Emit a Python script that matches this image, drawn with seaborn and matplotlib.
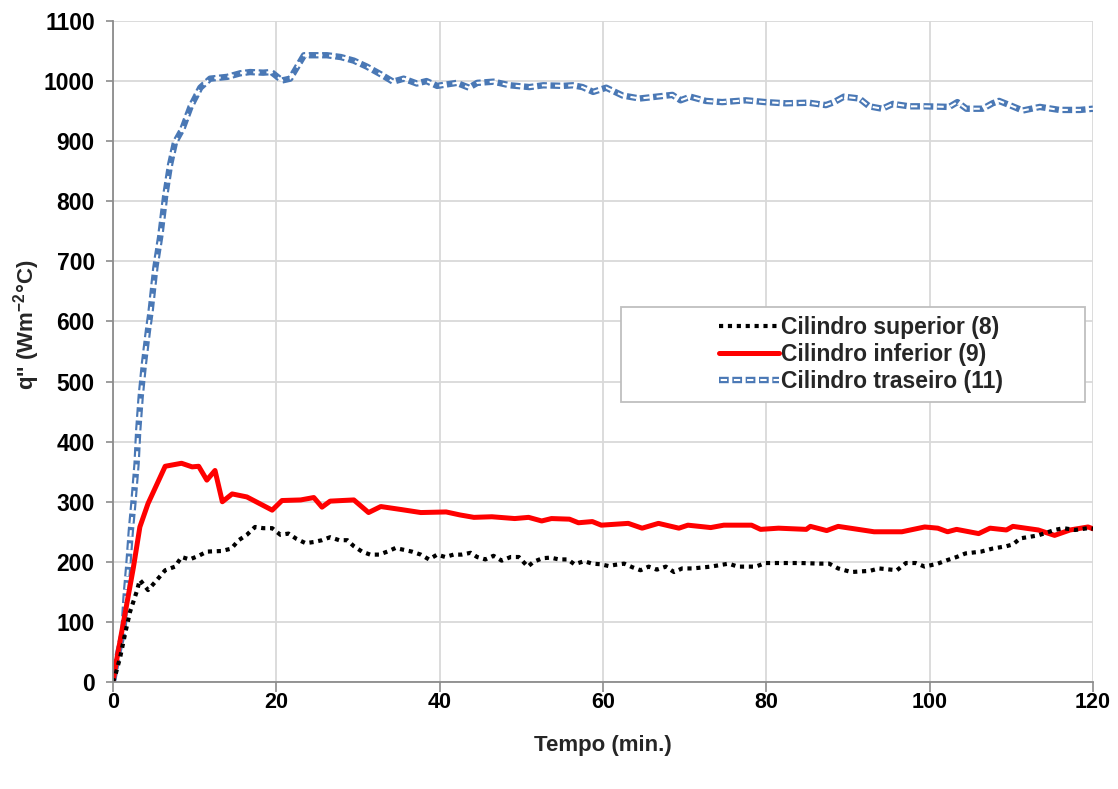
import matplotlib
matplotlib.use("Agg")
import matplotlib.pyplot as plt
import seaborn as sns
from matplotlib.patches import Rectangle

# Cilindro superior (8)
T_SUP = [0, 0.25, 0.9, 1.5, 2.1, 2.9, 3.3, 4.3, 5.4, 6.4, 7.6, 8.4, 9.4, 10.5,
         11.5, 13.3, 14.5, 15.4, 16.4, 17.4, 18.4, 19.5, 20.5, 21.5, 22.5,
         23.6, 24.6, 25.6, 26.6, 27.7, 28.7, 29.5, 30.5, 31.5, 32.6, 33.6,
         34.6, 35.6, 36.6, 37.7, 38.7, 39.7, 40.7, 41.7, 42.7, 43.8, 44.6,
         45.6, 46.6, 47.6, 48.7, 49.7, 50.8, 51.5, 52.6, 53.6, 54.6, 55.7,
         56.5, 57.7, 58.7, 59.7, 60.7, 61.5, 62.6, 63.6, 64.6, 65.6, 66.6,
         67.7, 68.7, 69.7, 71, 73.2, 75.4, 76.5, 78.7, 79.9, 84.3, 86.5, 87.7,
         88.8, 90.4, 92.7, 93.8, 96, 97.1, 98.3, 99.4, 101, 102.2, 103.3,
         104.4, 106.3, 107.7, 109.4, 110.2, 111.1, 113.3, 115.3, 116.4, 117.8,
         119.4, 120]
Q_SUP = [0, 9, 42, 81, 117, 150, 170, 153, 170, 186, 192, 208, 204, 210, 217,
         218, 222, 236, 245, 258, 256, 256, 245, 247, 238, 231, 233, 236, 241,
         236, 236, 226, 217, 212, 212, 217, 223, 220, 217, 212, 204, 212, 208,
         212, 212, 215, 208, 204, 210, 202, 208, 208, 192, 200, 206, 207, 204,
         204, 196, 201, 197, 196, 193, 195, 197, 191, 186, 192, 187, 192, 183,
         189, 189, 192, 197, 192, 192, 198, 198, 197, 197, 189, 183, 185, 189,
         186, 198, 198, 192, 197, 203, 208, 214, 217, 222, 226, 229, 239, 244,
         253, 256, 253, 256, 255]

# Cilindro inferior (9)
T_INF = [0, 0.5, 1.5, 2.5, 3.3, 4.3, 6.4, 8.4, 9.7, 10.5, 11.5, 12.5, 13.4,
         14.6, 16.4, 19.5, 20.7, 23.0, 24.6, 25.6, 26.6, 29.5, 31.3, 32.8,
         35.3, 37.7, 40.8, 42.5, 44.2, 46.4, 49.2, 50.9, 52.5, 53.7, 55.9, 57,
         58.7, 59.8, 63.1, 64.8, 66.8, 69.3, 70.4, 73.2, 74.8, 78.2, 79.3,
         81.5, 84.9, 85.4, 87.4, 88.8, 93.2, 96.6, 99.4, 101, 102.2, 103.3,
         106, 107.4, 109.4, 110.2, 113.3, 115.3, 117.2, 119.4, 120]
Q_INF = [0, 40, 115, 190, 258, 297, 359, 364, 358, 359, 336, 352, 300, 313,
         308, 286, 302, 303, 307, 291, 301, 303, 282, 292, 287, 282, 283, 278,
         274, 275, 272, 274, 268, 272, 271, 265, 267, 261, 264, 256, 264, 256,
         261, 257, 261, 261, 254, 256, 254, 259, 252, 259, 250, 250, 258, 256,
         250, 254, 247, 256, 253, 259, 253, 244, 253, 258, 255]

# Cilindro traseiro (11)
T_TRA = [0, 0.65, 1.3, 1.55, 1.9, 2.2, 2.5, 2.9, 3.1, 3.4, 3.8, 4.3, 4.6, 5.2,
         5.8, 6.4, 7.0, 7.6, 8.5, 9.5, 10.7, 11.9, 14.0, 15.6, 16.8, 18.4,
         19.4, 20.7, 21.7, 23.4, 26.2, 27.9, 29.5, 31.1, 32.7, 34.3, 35.6,
         37.2, 38.4, 39.7, 42.1, 43.6, 44.6, 46.6, 48.6, 51, 52.7, 55.1, 56.3,
         57.5, 58.8, 60.4, 62.4, 64.5, 66.5, 68.5, 69.5, 70.7, 72.6, 74.6,
         77.5, 79.9, 82.4, 85.2, 87.3, 88.3, 89.5, 91.4, 92.6, 94.2, 95.5,
         97.5, 99.5, 102.4, 103.4, 104.5, 106.5, 107.7, 108.5, 109.8, 111.4,
         113.5, 115.9, 118.4, 120]
Q_TRA = [0, 48, 87, 142, 197, 253, 297, 364, 419, 475, 530, 586, 615, 690,
         742, 809, 861, 898, 920, 957, 989, 1004, 1007, 1013, 1015, 1014, 1015,
         1001, 1004, 1043, 1043, 1040, 1034, 1024, 1012, 999, 1004, 996, 1000,
         992, 997, 989, 997, 999, 993, 990, 993, 992, 993, 990, 982, 989, 976,
         971, 974, 977, 968, 974, 967, 965, 968, 965, 963, 964, 960, 965, 974,
         971, 958, 954, 962, 958, 958, 957, 965, 954, 954, 963, 967, 960, 951,
         957, 952, 952, 954]

LABELS = ["Cilindro superior (8)", "Cilindro inferior (9)",
          "Cilindro traseiro (11)"]
X_TICKS = list(range(0, 121, 20))
Y_TICKS = list(range(0, 1101, 100))


def main():
    sns.set_theme(style="whitegrid")
    plt.rcParams["font.family"] = ["Liberation Sans", "DejaVu Sans"]
    plt.rcParams["lines.scale_dashes"] = False
    plt.rcParams["mathtext.fontset"] = "custom"
    plt.rcParams["mathtext.bf"] = "Liberation Sans:bold"

    fig = plt.figure(figsize=(11.18, 7.89), dpi=100)
    ax = fig.add_axes([0.101, 0.1356, 0.8766, 0.8378])

    # Blue double dashed line: blue dashes with white core
    blue = "#4A78B5"
    sns.lineplot(x=T_TRA, y=Q_TRA, ax=ax, color=blue, lw=4.6,
                 linestyle=(0, (7, 2.6)), estimator=None, sort=False)
    sns.lineplot(x=T_TRA, y=Q_TRA, ax=ax, color="white", lw=1.5,
                 linestyle=(8.3, (4.6, 4.9)), estimator=None, sort=False)
    sns.lineplot(x=T_INF, y=Q_INF, ax=ax, color="#FF0000", lw=3.6,
                 estimator=None, sort=False)
    sns.lineplot(x=T_SUP, y=Q_SUP, ax=ax, color="black", lw=3.0,
                 linestyle=(0, (3, 3.4)), estimator=None, sort=False)
    lines = ax.get_lines()

    # Axes
    ax.set(xlim=(0, 120), ylim=(0, 1100))
    ax.set_xticks(X_TICKS)
    ax.set_yticks(Y_TICKS)
    ax.grid(True, color="#D9D9D9", lw=1.3)
    for side in ("top", "right"):
        ax.spines[side].set_visible(False)
    for side in ("left", "bottom"):
        ax.spines[side].set_color("#8C8C8C")
        ax.spines[side].set_linewidth(1.3)
    ax.tick_params(axis="y", which="major", direction="out", length=5,
                   width=1.2, color="#8C8C8C", labelsize=16.5, pad=8,
                   left=True)
    ax.tick_params(axis="x", which="major", direction="out", length=7,
                   width=1.2, color="#8C8C8C", labelsize=15.5, pad=0,
                   bottom=True)
    for lab in ax.get_xticklabels() + ax.get_yticklabels():
        lab.set_fontweight("bold")
        lab.set_color("black")
    ax.set_xlabel("Tempo (min.)", fontsize=16, fontweight="bold")
    ax.xaxis.set_label_coords(0.5, -0.08)
    ax.set_ylabel(r"q'' (Wm$\mathbf{^{-2}}$°C)", fontsize=16,
                  fontweight="bold")
    ax.yaxis.set_label_coords(-0.072, 0.54)

    # Legend with wide box like the original
    box = Rectangle((0.518, 0.4236), 0.474, 0.1434, transform=ax.transAxes,
                    facecolor="white", edgecolor="#BFBFBF", lw=1.3,
                    zorder=5)
    ax.add_patch(box)
    handles = [lines[3], lines[2], (lines[0], lines[1])]
    leg = ax.legend(handles, LABELS, loc="center left",
                    bbox_to_anchor=(0.607, 0.4953), frameon=False,
                    handlelength=2.6, handletextpad=0.1, labelspacing=0.18,
                    borderpad=0, prop={"weight": "bold", "size": 16.5})
    leg.set_zorder(6)

    fig.savefig("out.png", dpi=100)


if __name__ == "__main__":
    main()
